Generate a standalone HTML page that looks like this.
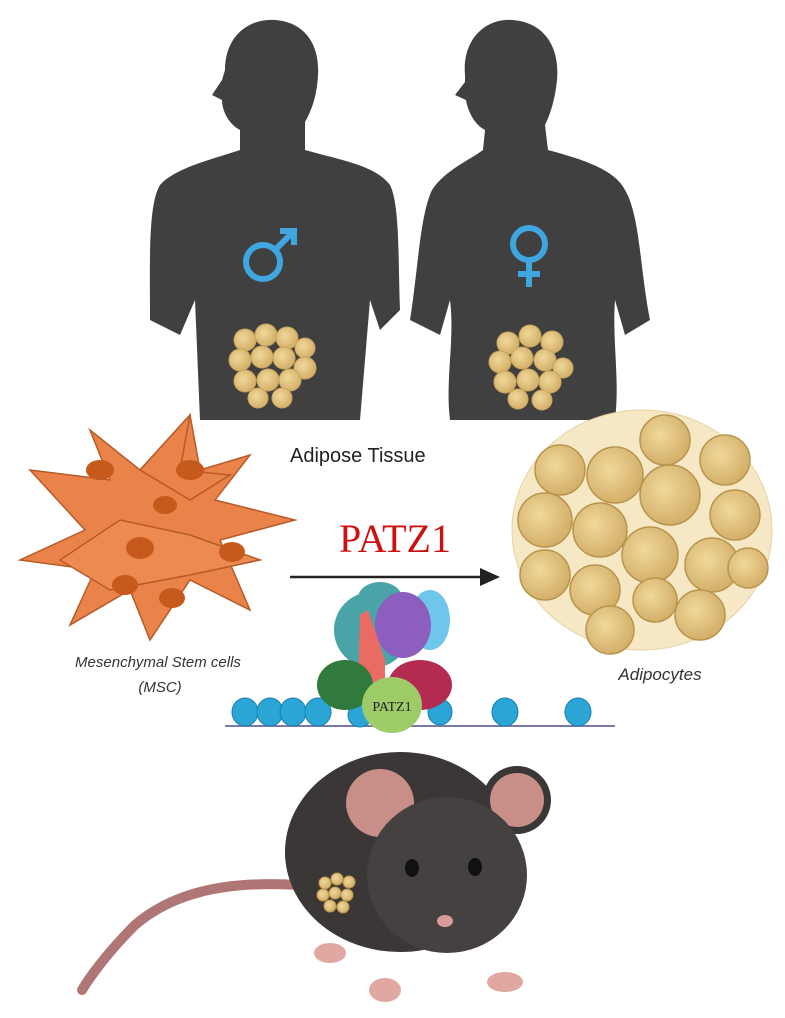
<!DOCTYPE html>
<html><head><meta charset="utf-8"><style>
html,body{margin:0;padding:0;background:#fff;}
svg{display:block;}
.s{font-family:"Liberation Sans",sans-serif;}
.f{font-family:"Liberation Serif",serif;}
</style></head><body>
<svg width="785" height="1018" viewBox="0 0 785 1018" xmlns="http://www.w3.org/2000/svg">
<defs>
<radialGradient id="fat" cx="0.4" cy="0.4" r="0.6"><stop offset="0" stop-color="#f0d89a"/><stop offset="1" stop-color="#d4b06a"/></radialGradient>
</defs>
<g fill="#404040">
<path d="M225,70 C225,35 250,18 275,20 C305,22 320,45 318,75 C317,95 312,110 305,122 L305,150 C340,160 375,165 390,185 C400,205 398,260 400,310 L380,330 L370,300 L360,420 L200,420 L195,300 L180,335 L150,320 C150,260 148,205 160,185 C175,168 210,160 240,150 L240,130 C230,125 222,112 222,100 L212,95 L222,80 Z"/>
<path d="M465,75 C462,40 485,18 512,20 C545,22 560,48 557,80 C555,100 550,115 545,125 L548,150 C585,160 615,170 625,190 C640,215 640,270 650,320 L625,335 L615,300 C612,340 620,380 615,420 L450,420 C445,380 455,340 450,300 L440,335 L410,320 C418,270 420,215 432,190 C445,170 470,160 483,150 L485,130 C475,125 468,112 466,100 L455,95 L465,82 Z"/>
</g>
<g fill="none" stroke="#3fa6df" stroke-width="6">
<circle cx="263" cy="262" r="17"/>
<line x1="276" y1="249" x2="294" y2="231"/>
<polyline points="280,231 294,231 294,245"/>
<circle cx="529" cy="244" r="16"/>
<line x1="529" y1="260" x2="529" y2="287"/>
<line x1="518" y1="274" x2="540" y2="274"/>
</g>
<g fill="url(#fat)" stroke="#c9a45c" stroke-width="1">
<circle cx="245" cy="340" r="11"/><circle cx="266" cy="335" r="11"/><circle cx="287" cy="338" r="11"/><circle cx="305" cy="348" r="10"/>
<circle cx="240" cy="360" r="11"/><circle cx="262" cy="357" r="11"/><circle cx="284" cy="358" r="11"/><circle cx="305" cy="368" r="11"/>
<circle cx="245" cy="381" r="11"/><circle cx="268" cy="380" r="11"/><circle cx="290" cy="380" r="11"/><circle cx="258" cy="398" r="10"/><circle cx="282" cy="398" r="10"/>
<circle cx="508" cy="343" r="11"/><circle cx="530" cy="336" r="11"/><circle cx="552" cy="342" r="11"/>
<circle cx="500" cy="362" r="11"/><circle cx="522" cy="358" r="11"/><circle cx="545" cy="360" r="11"/><circle cx="563" cy="368" r="10"/>
<circle cx="505" cy="382" r="11"/><circle cx="528" cy="380" r="11"/><circle cx="550" cy="382" r="11"/><circle cx="518" cy="399" r="10"/><circle cx="542" cy="400" r="10"/>
</g>
<text class="s" x="290" y="462" font-size="20" fill="#222">Adipose Tissue</text>
<g fill="#e9834a" stroke="#b85a25" stroke-width="1.5">
<path d="M30,470 L110,480 L90,430 L140,470 L190,415 L200,470 L250,455 L215,500 L295,520 L220,540 L250,610 L190,580 L150,640 L130,590 L70,625 L95,570 L20,560 L85,530 Z"/>
<path d="M140,470 L190,415 L180,470 L230,475 L190,500 Z"/>
<path d="M60,560 L120,520 L190,535 L260,560 L190,575 L110,590 Z" fill="#ec8a52"/>
</g>
<g fill="#c65a1c">
<ellipse cx="100" cy="470" rx="14" ry="10"/><ellipse cx="190" cy="470" rx="14" ry="10"/><ellipse cx="140" cy="548" rx="14" ry="11"/>
<ellipse cx="232" cy="552" rx="13" ry="10"/><ellipse cx="125" cy="585" rx="13" ry="10"/><ellipse cx="172" cy="598" rx="13" ry="10"/><ellipse cx="165" cy="505" rx="12" ry="9"/>
</g>
<text class="f" x="395" y="552" font-size="40" fill="#cc1111" text-anchor="middle">PATZ1</text>
<line x1="290" y1="577" x2="485" y2="577" stroke="#222" stroke-width="2.5"/>
<polygon points="500,577 480,568 480,586" fill="#222"/>
<g fill="#f6e8c4" stroke="#e6d2a0"><ellipse cx="642" cy="530" rx="130" ry="120"/></g>
<g fill="url(#fat)" stroke="#b8954c" stroke-width="1.5">
<circle cx="560" cy="470" r="25"/><circle cx="615" cy="475" r="28"/><circle cx="665" cy="440" r="25"/><circle cx="725" cy="460" r="25"/>
<circle cx="545" cy="520" r="27"/><circle cx="600" cy="530" r="27"/><circle cx="670" cy="495" r="30"/><circle cx="735" cy="515" r="25"/>
<circle cx="545" cy="575" r="25"/><circle cx="595" cy="590" r="25"/><circle cx="650" cy="555" r="28"/><circle cx="712" cy="565" r="27"/><circle cx="748" cy="568" r="20"/>
<circle cx="610" cy="630" r="24"/><circle cx="655" cy="600" r="22"/><circle cx="700" cy="615" r="25"/>
</g>
<text class="s" x="158" y="667" font-size="15" font-style="italic" fill="#333" text-anchor="middle">Mesenchymal Stem cells</text>
<text class="s" x="160" y="692" font-size="15" font-style="italic" fill="#333" text-anchor="middle">(MSC)</text>
<text class="s" x="660" y="680" font-size="17" font-style="italic" fill="#333" text-anchor="middle">Adipocytes</text>
<line x1="225" y1="726" x2="615" y2="726" stroke="#7a7aa8" stroke-width="2"/>
<g fill="#2ba5d6" stroke="#1580b0">
<ellipse cx="245" cy="712" rx="13" ry="14"/><ellipse cx="270" cy="712" rx="13" ry="14"/><ellipse cx="293" cy="712" rx="13" ry="14"/><ellipse cx="318" cy="712" rx="13" ry="14"/>
<ellipse cx="360" cy="715" rx="12" ry="12"/><ellipse cx="440" cy="712" rx="12" ry="13"/><ellipse cx="505" cy="712" rx="13" ry="14"/><ellipse cx="578" cy="712" rx="13" ry="14"/>
</g>
<ellipse cx="372" cy="630" rx="38" ry="38" fill="#4aa3a6"/>
<ellipse cx="380" cy="598" rx="22" ry="16" fill="#4aa3a6"/>
<ellipse cx="430" cy="620" rx="20" ry="30" fill="#6ec6ea"/>
<ellipse cx="403" cy="625" rx="28" ry="33" fill="#8c5fbf"/>
<path d="M360,615 L368,610 L385,660 L385,690 L358,690 Z" fill="#ea6b63"/>
<ellipse cx="420" cy="685" rx="32" ry="25" fill="#b42b52"/>
<ellipse cx="345" cy="685" rx="28" ry="25" fill="#2f7a3c"/>
<ellipse cx="392" cy="705" rx="30" ry="28" fill="#9dcb68"/>
<text class="f" x="392" y="711" font-size="14" fill="#222" text-anchor="middle">PATZ1</text>
<!-- mouse -->
<path d="M300,885 C220,880 170,895 135,925 C105,955 88,980 82,990" fill="none" stroke="#b07575" stroke-width="10" stroke-linecap="round"/>
<g fill="#e0a8a0"><ellipse cx="330" cy="953" rx="16" ry="10"/><ellipse cx="385" cy="990" rx="16" ry="12"/><ellipse cx="505" cy="982" rx="18" ry="10"/></g>
<ellipse cx="400" cy="852" rx="115" ry="100" fill="#3a3736"/>
<circle cx="380" cy="803" r="34" fill="#c88e88"/>
<circle cx="517" cy="800" r="34" fill="#3a3736"/><circle cx="517" cy="800" r="27" fill="#c88e88"/>
<ellipse cx="447" cy="875" rx="80" ry="78" fill="#454141"/>
<ellipse cx="412" cy="868" rx="7" ry="9" fill="#111"/><ellipse cx="475" cy="867" rx="7" ry="9" fill="#111"/>
<ellipse cx="445" cy="921" rx="8" ry="6" fill="#d99a9a"/>
<g fill="url(#fat)" stroke="#b8954c" stroke-width="1">
<circle cx="325" cy="883" r="6"/><circle cx="337" cy="879" r="6"/><circle cx="349" cy="882" r="6"/><circle cx="323" cy="895" r="6"/><circle cx="335" cy="893" r="6"/><circle cx="347" cy="895" r="6"/><circle cx="330" cy="906" r="6"/><circle cx="343" cy="907" r="6"/>
</g>
</svg>
</body></html>
